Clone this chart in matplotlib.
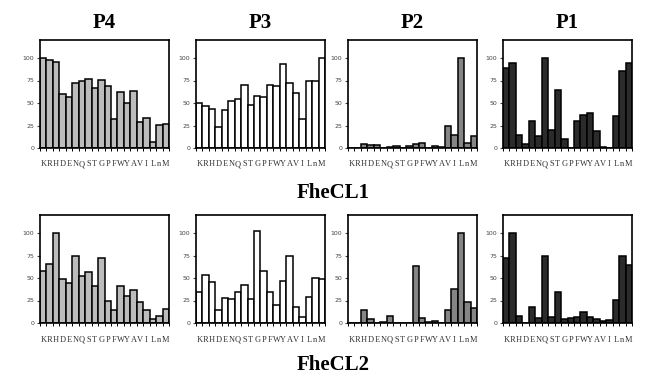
import numpy as np
import matplotlib.pyplot as plt

# аминокислоты по оси X
residues = ["K", "R", "H", "D", "E", "N", "Q", "S", "T", "G",
            "P", "F", "W", "Y", "A", "V", "I", "L", "n", "M"]
positions = ["P4", "P3", "P2", "P1"]
rows = ["FheCL1", "FheCL2"]

# FheCL1
p4_cl1 = [100, 98, 96, 60, 57, 72, 74, 77, 67, 76, 69, 32, 62, 50, 63, 29, 33, 7, 26, 27]
p3_cl1 = [50, 47, 43, 23, 42, 52, 54, 70, 48, 58, 57, 70, 69, 93, 72, 61, 32, 74, 74, 100]
p2_cl1 = [0, 0, 4, 3, 3, 0, 1, 2, 0, 2, 5, 6, 0, 2, 1, 25, 14, 100, 6, 13]
p1_cl1 = [89, 95, 14, 4, 30, 13, 100, 20, 64, 10, 0, 30, 37, 39, 19, 1, 0, 36, 86, 95]

# FheCL2
p4_cl2 = [58, 66, 100, 49, 44, 74, 52, 57, 41, 72, 25, 14, 41, 30, 37, 23, 14, 4, 8, 16]
p3_cl2 = [35, 53, 46, 15, 28, 27, 34, 42, 27, 102, 58, 35, 20, 47, 75, 18, 7, 29, 50, 49]
p2_cl2 = [0, 0, 14, 4, 0, 1, 8, 0, 0, 0, 63, 6, 1, 2, 0, 14, 38, 100, 23, 17]
p1_cl2 = [72, 100, 8, 0, 18, 6, 75, 7, 34, 4, 6, 7, 12, 7, 5, 2, 3, 26, 75, 64]

data = [[p4_cl1, p3_cl1, p2_cl1, p1_cl1],
        [p4_cl2, p3_cl2, p2_cl2, p1_cl2]]
colors = ["#bcbcbc", "#ffffff", "#858585", "#2b2b2b"]

W, H = 666, 378
fig = plt.figure(figsize=(W / 100, H / 100), dpi=100)

lefts = [40, 196, 348, 503]
tops = [40, 215]
ax_w, ax_h = 129, 108

x = np.arange(len(residues))
for r in range(2):
    for c in range(4):
        ax = fig.add_axes([lefts[c] / W, 1 - (tops[r] + ax_h) / H, ax_w / W, ax_h / H])
        ax.bar(x, data[r][c], width=1.0, color=colors[c], edgecolor="black", linewidth=1.1)
        ax.set_xlim(-0.5, len(residues) - 0.5)
        ax.set_ylim(0, 120)
        ax.set_yticks([0, 25, 50, 75, 100])
        ax.tick_params(axis="y", labelsize=4.5, length=2, width=0.8, pad=2, colors="#444444")
        # деления на границах столбцов, подписи по центрам
        ax.set_xticks(np.arange(len(residues) + 1) - 0.5)
        ax.set_xticklabels([])
        ax.tick_params(axis="x", which="major", length=2, width=0.7)
        ax.set_xticks(x, minor=True)
        ax.set_xticklabels(residues, minor=True, fontsize=6, family="Liberation Serif",
                           color="#333333")
        ax.tick_params(axis="x", which="minor", length=0, pad=9)
        for s in ax.spines.values():
            s.set_linewidth(1.2)
        if r == 0:
            ax.set_title(positions[c], fontsize=15, fontweight="bold",
                         family="Liberation Serif", pad=9)

fig.text(0.5, 1 - 193 / H, rows[0], ha="center", va="center", fontsize=15,
         fontweight="bold", family="Liberation Serif")
fig.text(0.5, 1 - 365 / H, rows[1], ha="center", va="center", fontsize=15,
         fontweight="bold", family="Liberation Serif")

plt.savefig("out.png", dpi=100)
